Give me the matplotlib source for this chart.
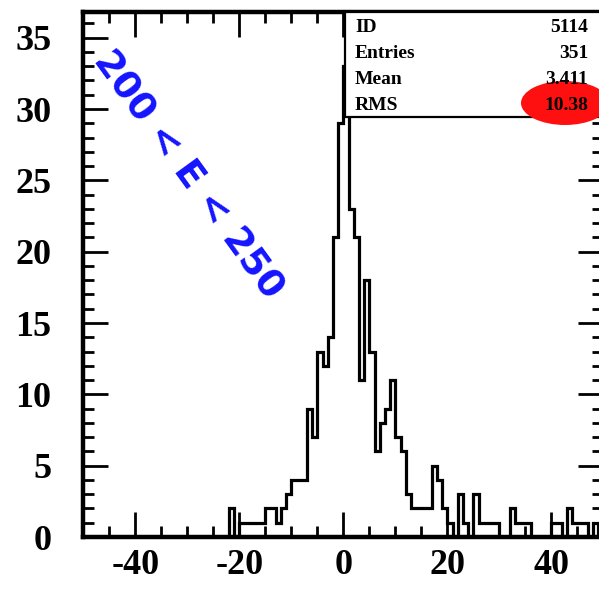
import matplotlib
matplotlib.use("Agg")
import matplotlib.pyplot as plt
from matplotlib.patches import Rectangle, Ellipse
import matplotlib.transforms as mtransforms
import numpy as np

# ---------------- data ----------------
first_bin = -22          # left edge of first listed bin (bins are 1 unit wide)
counts = [2, 0, 1, 1, 1, 1, 1, 2, 2, 1,
          2, 3, 4, 4, 4, 9, 7, 13, 12, 14,
          21, 29, 33, 23, 21, 11, 18, 13, 6, 8,
          9, 11, 7, 6, 3, 2, 2, 2, 2, 5,
          4, 2, 1, 0, 3, 1, 0, 3, 1, 1,
          1, 1, 0, 0, 2, 1, 1, 1, 0, 0,
          0, 0, 1, 1, 0, 2, 1, 1, 1, 0, 1]
x_range = (-50, 50)
y_range = (0, 36.8)
x_ticks = [-40, -20, 0, 20, 40]
x_tick_labels = ["-40", "-20", "0", "20", "40"]
y_ticks = [0, 5, 10, 15, 20, 25, 30, 35]
y_tick_labels = ["0", "5", "10", "15", "20", "25", "30", "35"]
stat_names = ["ID", "Entries", "Mean", "RMS"]
stat_values = ["5114", "351", "3.411", "10.38"]
note_text = "200 < E < 250"

# ---------------- figure ----------------
W, H = 599, 589
fig = plt.figure(figsize=(W / 100, H / 100), dpi=100)
fig.patch.set_facecolor("white")

def fx(px):
    return px / W

def fy(py):
    return 1 - py / H

ax = fig.add_axes([fx(83.3), fy(537), fx(603.3) - fx(83.3), fy(12) - fy(537)])
edges = np.arange(first_bin, first_bin + len(counts) + 1)
ax.stairs(counts, edges, color="black", linewidth=2.3, baseline=0)

ax.set_xlim(*x_range)
ax.set_ylim(*y_range)
ax.set_xticks(x_ticks)
ax.set_xticklabels(x_tick_labels)
ax.set_yticks(y_ticks)
ax.set_yticklabels(y_tick_labels)
ax.set_xticks(np.arange(-50, 51, 5), minor=True)
ax.set_yticks(np.arange(0, 37, 1), minor=True)

for lab in ax.get_xticklabels() + ax.get_yticklabels():
    lab.set_fontfamily("Liberation Serif")
    lab.set_fontweight("bold")
    lab.set_fontsize(26)

# y labels sit slightly below their ticks in the scan
shift = mtransforms.ScaledTranslation(0, -4 / 100, fig.dpi_scale_trans)
for lab in ax.get_yticklabels():
    lab.set_transform(lab.get_transform() + shift)

ax.tick_params(which="both", direction="in", top=True, right=True, colors="black")
ax.tick_params(which="major", length=18, width=2)
ax.tick_params(which="minor", length=8, width=2)
ax.tick_params(axis="y", which="major", pad=23)
ax.tick_params(axis="x", which="major", pad=9)
for s in ax.spines.values():
    s.set_linewidth(3.2)
    s.set_color("black")

# ---------------- stats box ----------------
box = Rectangle((fx(345), fy(117)), fx(605) - fx(345), fy(12) - fy(117),
                transform=fig.transFigure, facecolor="white", edgecolor="black",
                linewidth=1.6, zorder=5)
fig.patches.append(box)

ell = Ellipse((fx(565), fy(103)), fx(88), 44 / H, transform=fig.transFigure,
              facecolor="#ff1010", edgecolor="none", zorder=6)
fig.patches.append(ell)

row_y = [27, 53, 80, 106]
for name, val, yy in zip(stat_names, stat_values, row_y):
    fig.text(fx(355), fy(yy), name, ha="left", va="center", family="Liberation Serif",
             weight="bold", size=14, color="black", zorder=7)
    fig.text(fx(588), fy(yy), val, ha="right", va="center", family="Liberation Serif",
             weight="bold", size=14, color="black", zorder=7)

# ---------------- handwritten note ----------------
fig.text(fx(188), fy(175), note_text, rotation=-54, rotation_mode="anchor",
         ha="center", va="center", color="#1414ff", size=27, weight="bold",
         family="DejaVu Sans")

fig.savefig("out.png", dpi=100, facecolor="white")
